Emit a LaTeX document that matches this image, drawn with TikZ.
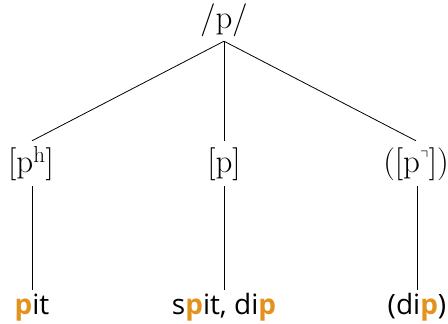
\documentclass[tikz,border=0pt]{standalone}
\usepackage{amssymb}
\usepackage{fontspec}
\setsansfont{Open Sans}
\definecolor{hl}{HTML}{E3921E}
\newcommand{\hp}{\textcolor{hl}{\textbf{p}}}
\begin{document}
\begin{tikzpicture}[x=1pt,y=-1pt,
  top/.style={anchor=base,inner sep=0pt,font=\fontsize{33}{38}\selectfont,text depth=13pt},
  mid/.style={anchor=base,inner sep=0pt,font=\fontsize{33}{38}\selectfont,text height=31pt,text depth=14pt},
  word/.style={anchor=base,inner sep=0pt,font=\sffamily\fontsize{28}{33}\selectfont,text height=24pt},
  edge/.style={line width=0.8pt}]
\useasboundingbox (0,0) rectangle (448,324);
\node[top] (r) at (224,28) {/p/};
\node[mid] (a) at (31,172) {[p$^{\mathrm{h}}$]};
\node[mid] (b) at (224,172) {[p]};
\node[mid] (c) at (416,172) {([p$^{\scriptscriptstyle\urcorner}$])};
\node[word] (wa) at (32,314) {\hp it};
\node[word] (wb) at (224,314) {s\hp it, di\hp};
\node[word] (wc) at (417,314) {(di\hp)};
\draw[edge] (r.south) -- ([xshift=1pt]a.north);
\draw[edge] (r.south) -- (b.north);
\draw[edge] (r.south) -- ([xshift=0pt]c.north);
\draw[edge] ([xshift=1pt]a.south) -- (wa.north);
\draw[edge] (b.south) -- (wb.north);
\draw[edge] ([xshift=1pt]c.south) -- (wc.north);
\end{tikzpicture}
\end{document}
